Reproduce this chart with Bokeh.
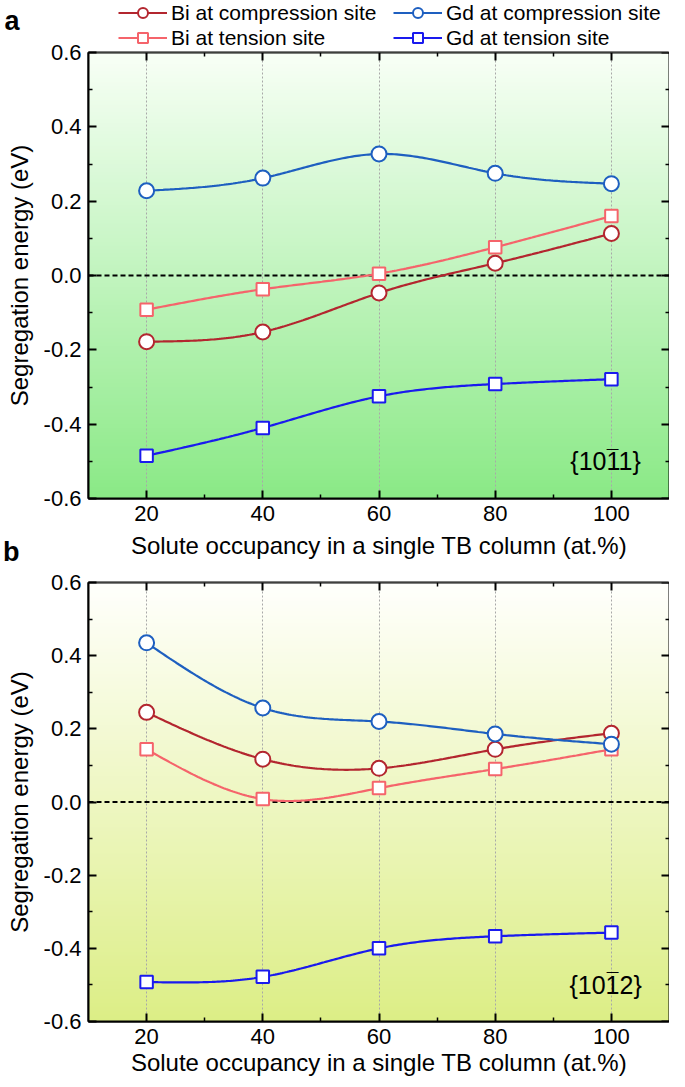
import numpy as np
from bokeh.plotting import figure
from bokeh.models import (Range1d, LinearAxis, Span, Label, Legend, LegendItem,
                          FixedTicker, PrintfTickFormatter, CustomJSTickFormatter)
from bokeh.layouts import column
from bokeh.embed import file_html
from bokeh.resources import INLINE

# ---------------- data ----------------
occupancy = [20, 40, 60, 80, 100]

a_bi_comp = [-0.178, -0.152, -0.047, 0.033, 0.113]
a_bi_ten = [-0.092, -0.037, 0.005, 0.076, 0.160]
a_gd_comp = [0.228, 0.262, 0.327, 0.275, 0.247]
a_gd_ten = [-0.485, -0.410, -0.325, -0.292, -0.279]

b_bi_comp = [0.245, 0.117, 0.092, 0.144, 0.188]
b_bi_ten = [0.144, 0.008, 0.038, 0.090, 0.144]
b_gd_comp = [0.435, 0.257, 0.220, 0.186, 0.158]
b_gd_ten = [-0.492, -0.478, -0.400, -0.367, -0.357]

series_names = ["Bi at compression site", "Bi at tension site",
                "Gd at compression site", "Gd at tension site"]
x_major_ticks = [20, 40, 60, 80, 100]
x_minor_ticks = [30, 50, 70, 90]
y_major_ticks = [-0.6, -0.4, -0.2, 0.0, 0.2, 0.4, 0.6]
y_minor_ticks = [-0.5, -0.3, -0.1, 0.1, 0.3, 0.5]
x_title = "Solute occupancy in a single TB column (at.%)"
y_title = "Segregation energy (eV)"
plane_labels = ["{1011}", "{1012}"]
panel_letters = ["a", "b"]

# ---------------- style ----------------
FONT = "Liberation Sans"
COLORS = ["#B3262F", "#F5646B", "#1E5FC0", "#1A1AEE"]
MARKERS = ["circle", "square", "circle", "square"]
SIZES = [15, 12.5, 15, 12.5]
W = 669
BL, BR = 81, 0


def natural_spline(x, y, n=200):
    x = np.asarray(x, float)
    y = np.asarray(y, float)
    m = len(x)
    h = np.diff(x)
    A = np.zeros((m, m))
    r = np.zeros(m)
    A[0, 0] = A[-1, -1] = 1.0
    for i in range(1, m - 1):
        A[i, i - 1] = h[i - 1]
        A[i, i] = 2 * (h[i - 1] + h[i])
        A[i, i + 1] = h[i]
        r[i] = 3 * ((y[i + 1] - y[i]) / h[i] - (y[i] - y[i - 1]) / h[i - 1])
    c = np.linalg.solve(A, r)
    b = (y[1:] - y[:-1]) / h - h * (2 * c[:-1] + c[1:]) / 3
    d = (c[1:] - c[:-1]) / (3 * h)
    xs = np.linspace(x[0], x[-1], n)
    idx = np.clip(np.searchsorted(x, xs, side="right") - 1, 0, m - 2)
    dx = xs - x[idx]
    ys = y[idx] + b[idx] * dx + c[idx] * dx ** 2 + d[idx] * dx ** 3
    return xs, ys


def style_axis(ax, show_labels=True):
    ax.axis_line_width = 2
    ax.axis_line_color = "black"
    ax.major_tick_in = 8
    ax.major_tick_out = 0
    ax.minor_tick_in = 4
    ax.minor_tick_out = 0
    ax.major_tick_line_width = 2
    ax.minor_tick_line_width = 1.5
    ax.major_tick_line_color = "black"
    ax.minor_tick_line_color = "black"
    if not show_labels:
        ax.formatter = CustomJSTickFormatter(code="return ''")
        ax.major_label_standoff = 0
        ax.major_label_text_font_size = "0px"
        ax.axis_label_standoff = 0
    else:
        ax.major_label_text_font = FONT
        ax.major_label_text_font_size = "22px"
        ax.major_label_text_color = "black"
        ax.axis_label_text_font = FONT
        ax.axis_label_text_font_size = "24px"
        ax.axis_label_text_font_style = "normal"
        ax.axis_label_text_color = "black"


def make_panel(series, height, top, bottom, margin_top, grad_top, grad_bottom,
               plane_text, with_xtitle):
    p = figure(width=W, height=height, x_range=Range1d(10, 110),
               y_range=Range1d(-0.6, 0.6), output_backend="svg",
               toolbar_location=None, min_border_left=BL, min_border_right=BR,
               min_border_top=top, min_border_bottom=bottom,
               margin=(margin_top, 0, 0, 0))
    p.outline_line_color = "black"
    p.outline_line_width = 2
    p.background_fill_color = "white"
    p.border_fill_alpha = 0

    # vertical gradient background
    n = 120
    edges = np.linspace(-0.6, 0.6, n + 1)
    c0 = np.array(grad_bottom, float)
    c1 = np.array(grad_top, float)
    cols = []
    for k in range(n):
        t = (k + 0.5) / n
        c = c0 + (c1 - c0) * t
        cols.append("#%02x%02x%02x" % tuple(int(round(v)) for v in c))
    p.quad(left=[10] * n, right=[110] * n, bottom=edges[:-1],
           top=edges[1:] + 0.004, fill_color=cols, line_color=None, level="image")

    p.xaxis.ticker = FixedTicker(ticks=x_major_ticks, minor_ticks=x_minor_ticks)
    p.yaxis.ticker = FixedTicker(ticks=y_major_ticks, minor_ticks=y_minor_ticks)
    p.yaxis.formatter = PrintfTickFormatter(format="%.1f")
    if with_xtitle:
        p.xaxis.axis_label = x_title
    p.yaxis.axis_label = y_title
    style_axis(p.xaxis[0])
    style_axis(p.yaxis[0])
    p.xaxis.major_label_standoff = 7
    p.xaxis.axis_label_standoff = 2
    p.yaxis.major_label_standoff = 7
    p.yaxis.axis_label_standoff = 8

    right = LinearAxis(ticker=FixedTicker(ticks=y_major_ticks, minor_ticks=y_minor_ticks),
                       fixed_location=110)
    style_axis(right, show_labels=False)
    p.add_layout(right, "right")
    above = LinearAxis(ticker=FixedTicker(ticks=x_major_ticks, minor_ticks=x_minor_ticks),
                       fixed_location=0.6)
    style_axis(above, show_labels=False)
    p.add_layout(above, "above")

    p.ygrid.visible = False
    p.xgrid.grid_line_color = "#a8a8a8"
    p.xgrid.grid_line_dash = "2 2"
    p.xgrid.grid_line_width = 1

    p.add_layout(Span(location=0, dimension="width", line_color="black",
                      line_dash="5 3", line_width=2, level="underlay"))

    for vals, col, mk, sz in zip(series, COLORS, MARKERS, SIZES):
        xs, ys = natural_spline(occupancy, vals)
        p.line(xs, ys, line_color=col, line_width=2.2)
        p.scatter(occupancy, vals, marker=mk, size=sz, line_color=col,
                  line_width=2, fill_color="white")

    p.add_layout(Label(x=99, y=-0.5, text=plane_text, text_align="center",
                       text_baseline="middle", text_font=FONT,
                       text_font_size="25px", text_color="black"))
    # overbar on the third Miller index digit
    p.add_layout(Label(x=99, y=-0.5, text="\u00af", text_align="center",
                       text_baseline="middle", text_font=FONT, x_offset=7, y_offset=5,
                       text_font_size="21px", text_font_style="bold", text_color="black"))
    return p


def strip(height, y0, letter, letter_y):
    s = figure(width=W, height=height, x_range=Range1d(10, 110),
               y_range=Range1d(y0, y0 + height), output_backend="svg",
               toolbar_location=None, min_border_left=BL, min_border_right=BR,
               min_border_top=0, min_border_bottom=0,
               x_axis_type=None, y_axis_type=None)
    s.outline_line_color = None
    s.background_fill_alpha = 0
    s.border_fill_alpha = 0
    ax = LinearAxis(ticker=FixedTicker(ticks=[letter_y], minor_ticks=[]),
                    major_label_overrides={letter_y: letter})
    ax.axis_line_color = None
    ax.major_tick_line_color = None
    ax.minor_tick_line_color = None
    ax.major_label_text_font = FONT
    ax.major_label_text_font_size = "27px"
    ax.major_label_text_font_style = "bold"
    ax.major_label_text_color = "black"
    ax.major_label_standoff = 63
    s.add_layout(ax, "left")
    return s


# ---- top strip: legend + letter "a" ----
LH = 52
pl = strip(LH, 100, panel_letters[0], 100 + LH - 20)
items = []
for nm, vals, col, mk, sz in zip(series_names, [a_bi_comp, a_bi_ten, a_gd_comp, a_gd_ten],
                                 COLORS, MARKERS, SIZES):
    lr = pl.line(occupancy, vals, line_color=col, line_width=2.2)
    sr = pl.scatter(occupancy, vals, marker=mk, size=sz, line_color=col,
                    line_width=2, fill_color="white")
    items.append(LegendItem(label=nm, renderers=[lr, sr]))
legend = Legend(items=items, ncols=2, orientation="vertical", location=(30, 2),
                glyph_width=49, glyph_height=25, label_standoff=4, spacing=0,
                label_width=222, label_height=20, padding=0, margin=0,
                border_line_alpha=0, background_fill_alpha=0, label_text_font=FONT,
                label_text_font_size="21px", label_text_color="black")
pl.add_layout(legend)

# ---- panel a ----
pa = make_panel([a_bi_comp, a_bi_ten, a_gd_comp, a_gd_ten], 493, 13, 34, -13,
                (248, 255, 246), (138, 233, 134), plane_labels[0], False)

# ---- middle strip: x title of panel a + letter "b" ----
MH = 44
pm = strip(MH, 0, panel_letters[1], MH - 19)
pm.add_layout(Label(x=60, y=MH - 13, text=x_title, text_align="center",
                    text_baseline="middle", text_font=FONT, text_font_size="24px",
                    text_color="black"))

# ---- panel b ----
pb = make_panel([b_bi_comp, b_bi_ten, b_gd_comp, b_gd_ten], 511, 14, 58, -8,
                (255, 255, 252), (220, 238, 134), plane_labels[1], True)

layout = column(pl, pa, pm, pb)
open("out.html", "w").write(file_html(layout, INLINE))
